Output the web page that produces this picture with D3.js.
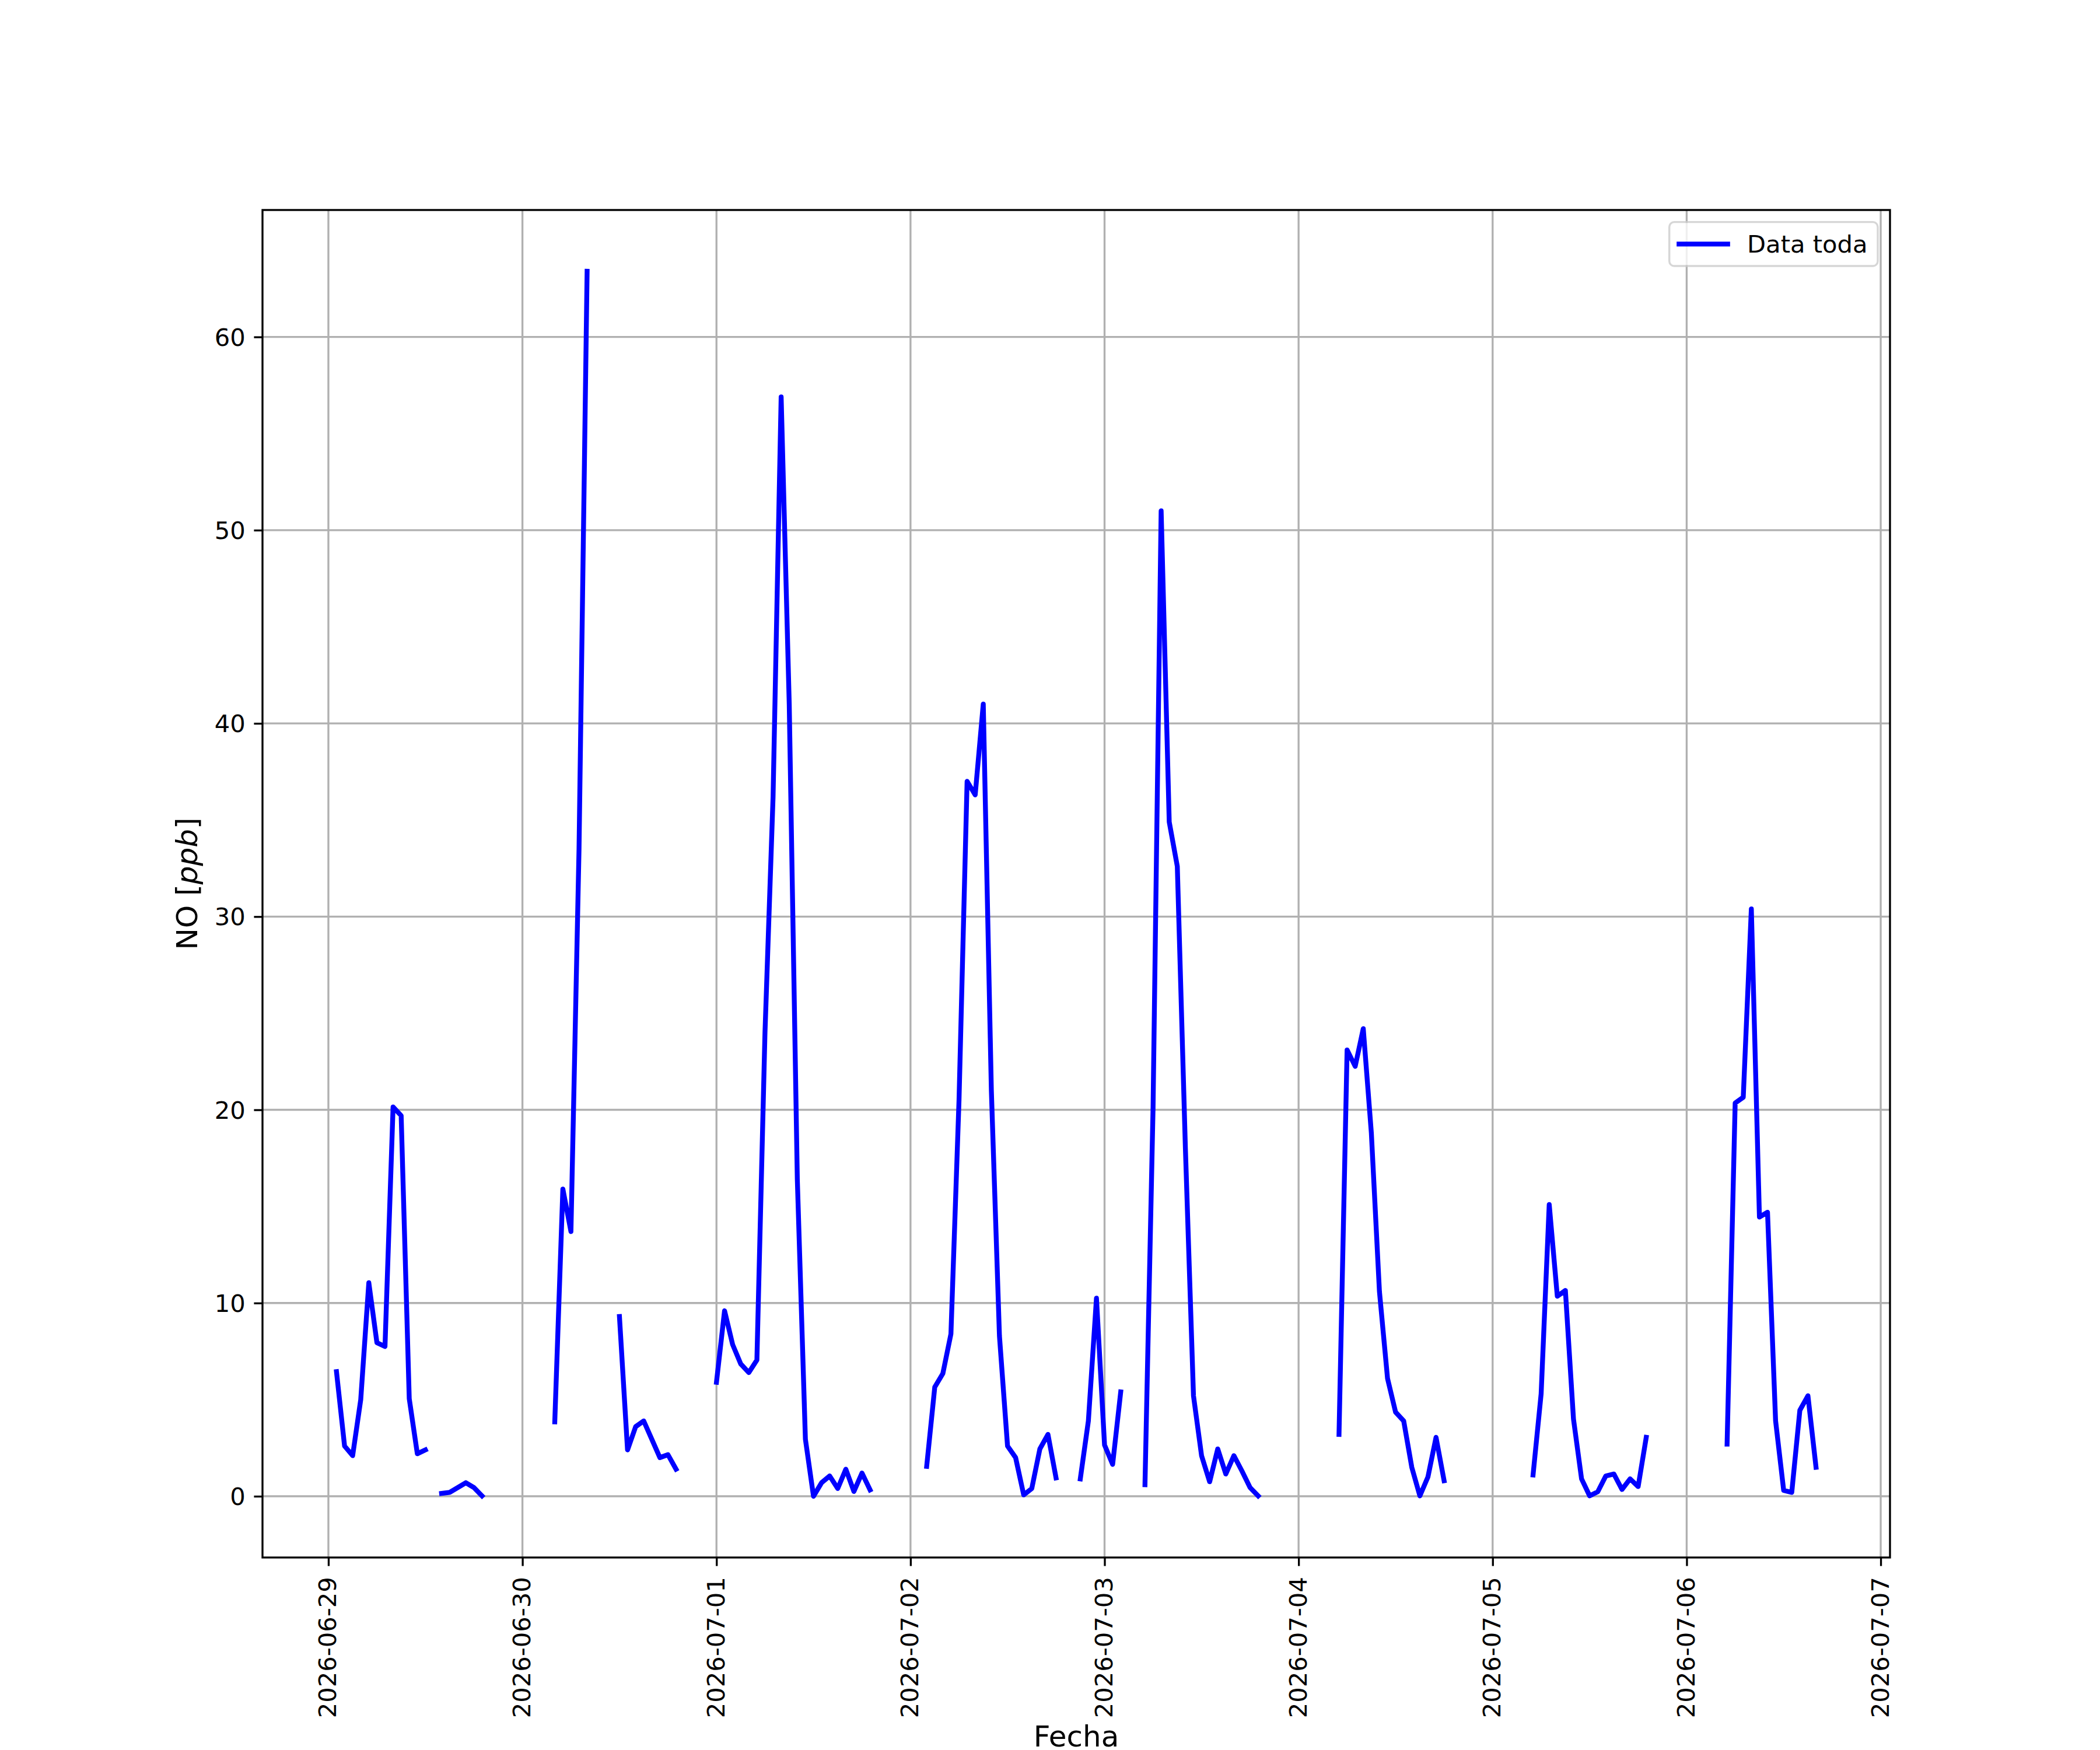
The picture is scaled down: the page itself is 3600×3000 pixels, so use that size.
<!DOCTYPE html>
<html>
<head>
<meta charset="utf-8">
<script src="https://cdn.jsdelivr.net/npm/d3@7"></script>
<style>
  body { margin: 0; background: #fff; }
  svg { display: block; }
</style>
</head>
<body>
<script>
// hourly NO values per day (hour 0..23), null = no data
const n = null
const dias = ["2026-06-29", "2026-06-30", "2026-07-01", "2026-07-02", "2026-07-03", "2026-07-04", "2026-07-05", "2026-07-06"]
const no_0629 = [n, 6.45, 2.6, 2.1, 5.0, 11.05, 7.95, 7.75, 20.15, 19.7, 5.05, 2.2, 2.4, n, 0.15, 0.2, 0.45, 0.7, 0.45, 0.02, n, n, n, n]
const no_0630 = [n, n, n, n, 3.85, 15.9, 13.7, 33.5, 63.4, n, n, n, 9.3, 2.4, 3.6, 3.9, 2.95, 2.0, 2.15, 1.4, n, n, n, n]
const no_0701 = [5.9, 9.6, 7.85, 6.85, 6.4, 7.05, 24.0, 36.2, 56.9, 41.0, 16.4, 2.95, 0.0, 0.7, 1.05, 0.4, 1.4, 0.25, 1.2, 0.33, n, n, n, n]
const no_0702 = [n, n, 1.55, 5.65, 6.35, 8.4, 20.5, 37.0, 36.3, 41.0, 21.0, 8.3, 2.6, 2.0, 0.07, 0.4, 2.45, 3.2, 0.95, n, n, 0.9, 3.9, 10.25]
const no_0703 = [2.65, 1.65, 5.4, n, n, 0.6, 20.1, 51.0, 34.9, 32.6, 18.0, 5.2, 2.1, 0.75, 2.45, 1.15, 2.1, 1.3, 0.45, 0.02, n, n, n, n]
const no_0704 = [n, n, n, n, n, 3.2, 23.1, 22.25, 24.2, 18.8, 10.6, 6.1, 4.35, 3.9, 1.5, 0.02, 1.0, 3.05, 0.8, n, n, n, n, n]
const no_0705 = [n, n, n, n, n, 1.1, 5.3, 15.1, 10.35, 10.65, 4.0, 0.9, 0.02, 0.23, 1.05, 1.15, 0.35, 0.9, 0.5, 3.05, n, n, n, n]
const no_0706 = [n, n, n, n, n, 2.7, 20.35, 20.65, 30.4, 14.45, 14.7, 3.9, 0.3, 0.2, 4.45, 5.2, 1.5]
const yTicks = [0, 10, 20, 30, 40, 50, 60]
const xTicksDias = ["2026-06-29", "2026-06-30", "2026-07-01", "2026-07-02", "2026-07-03", "2026-07-04", "2026-07-05", "2026-07-06", "2026-07-07"]
const serieNombre = "Data toda"

// figure: 12x10 in at 300 dpi
const W = 3600, H = 3000
const pt = 300 / 72
const axL = 450, axR = 3240, axT = 360, axB = 2670
const fontTick = 10 * pt
const fontLabel = 12 * pt
const lw = 2 * pt
const thin = 0.8 * pt
const tickLen = 3.5 * pt
const tickPad = 3.5 * pt

const parseDay = d3.utcParse("%Y-%m-%d")
const porDia = [no_0629, no_0630, no_0701, no_0702, no_0703, no_0704, no_0705, no_0706]
const data = []
porDia.forEach((vals, i) => {
    const d0 = parseDay(dias[i])
    vals.forEach((v, h) => data.push({ t: d3.utcHour.offset(d0, h), v: v }))
})
const valid = data.filter(d => d.v != null)

// matplotlib style 5% margins
const tExt = d3.extent(valid, d => d.t)
const tPad = (tExt[1] - tExt[0]) * 0.05
const vExt = d3.extent(valid, d => d.v)
const vPad = (vExt[1] - vExt[0]) * 0.05

const x = d3.scaleUtc()
    .domain([new Date(+tExt[0] - tPad), new Date(+tExt[1] + tPad)])
    .range([axL, axR])
const y = d3.scaleLinear()
    .domain([vExt[0] - vPad, vExt[1] + vPad])
    .range([axB, axT])

const xTickVals = xTicksDias.map(parseDay)

const svg = d3.select("body")
    .append("svg")
    .attr("width", W)
    .attr("height", H)
    .style("font-family", "'DejaVu Sans', sans-serif")

svg.append("rect").attr("width", W).attr("height", H).attr("fill", "#fff")

// grid
const grid = svg.append("g").attr("stroke", "#b0b0b0").attr("stroke-width", thin)
grid.selectAll(".gx")
    .data(xTickVals)
    .enter()
    .append("line")
    .attr("x1", d => x(d)).attr("x2", d => x(d))
    .attr("y1", axT).attr("y2", axB)
grid.selectAll(".gy")
    .data(yTicks)
    .enter()
    .append("line")
    .attr("x1", axL).attr("x2", axR)
    .attr("y1", d => y(d)).attr("y2", d => y(d))

// data line
const line = d3.line()
    .defined(d => d.v != null)
    .x(d => x(d.t))
    .y(d => y(d.v))

svg.append("path")
    .datum(data)
    .attr("d", line)
    .attr("fill", "none")
    .attr("stroke", "#0000ff")
    .attr("stroke-width", lw)
    .attr("stroke-linejoin", "round")
    .attr("stroke-linecap", "square")

// spines
svg.append("rect")
    .attr("x", axL).attr("y", axT)
    .attr("width", axR - axL).attr("height", axB - axT)
    .attr("fill", "none")
    .attr("stroke", "#000")
    .attr("stroke-width", thin)

// x axis
const xAxis = d3.axisBottom(x)
    .tickValues(xTickVals)
    .tickFormat(d3.utcFormat("%Y-%m-%d"))
    .tickSize(tickLen)
    .tickSizeOuter(0)
const gx = svg.append("g")
    .attr("transform", "translate(0," + axB + ")")
    .call(xAxis)
gx.select(".domain").remove()
gx.selectAll(".tick line").attr("stroke", "#000").attr("stroke-width", thin)
gx.selectAll(".tick text")
    .attr("y", null)
    .attr("dy", null)
    .attr("transform", "translate(13," + (tickLen + tickPad + 4) + ") rotate(-90)")
    .attr("text-anchor", "end")
    .attr("fill", "#000")
    .style("font-size", fontTick + "px")
    .style("font-family", "'DejaVu Sans', sans-serif")

// y axis
const yAxis = d3.axisLeft(y)
    .tickValues(yTicks)
    .tickSize(tickLen)
    .tickPadding(tickPad)
    .tickSizeOuter(0)
const gy = svg.append("g")
    .attr("transform", "translate(" + axL + ",0)")
    .call(yAxis)
gy.select(".domain").remove()
gy.selectAll(".tick line").attr("stroke", "#000").attr("stroke-width", thin)
gy.selectAll(".tick text")
    .attr("dy", "0.35em")
    .attr("fill", "#000")
    .style("font-size", fontTick + "px")
    .style("font-family", "'DejaVu Sans', sans-serif")

// axis labels
svg.append("text")
    .attr("x", (axL + axR) / 2)
    .attr("y", 2994)
    .attr("text-anchor", "middle")
    .style("font-size", fontLabel + "px")
    .text("Fecha")

const yl = svg.append("text")
    .attr("transform", "translate(338," + (axT + axB) / 2 + ") rotate(-90)")
    .attr("text-anchor", "middle")
    .style("font-size", fontLabel + "px")
yl.append("tspan").text("NO [")
yl.append("tspan").style("font-style", "italic").text("ppb")
yl.append("tspan").text("]")

// legend
const lgX = 2861.7, lgY = 380.7, lgW = 357.3, lgH = 75.3
const lg = svg.append("g")
lg.append("rect")
    .attr("x", lgX).attr("y", lgY)
    .attr("width", lgW).attr("height", lgH)
    .attr("rx", 0.2 * fontTick).attr("ry", 0.2 * fontTick)
    .attr("fill", "#fff")
    .attr("stroke", "#cccccc")
    .attr("stroke-width", thin)
    .attr("opacity", 0.8)
lg.append("line")
    .attr("x1", lgX + 0.4 * fontTick).attr("x2", lgX + 2.4 * fontTick)
    .attr("y1", lgY + lgH / 2).attr("y2", lgY + lgH / 2)
    .attr("stroke", "#0000ff")
    .attr("stroke-width", lw)
    .attr("stroke-linecap", "square")
lg.append("text")
    .attr("x", lgX + 3.2 * fontTick)
    .attr("y", lgY + lgH / 2 + 0.36 * fontTick)
    .style("font-size", fontTick + "px")
    .text(serieNombre)
</script>
</body>
</html>
